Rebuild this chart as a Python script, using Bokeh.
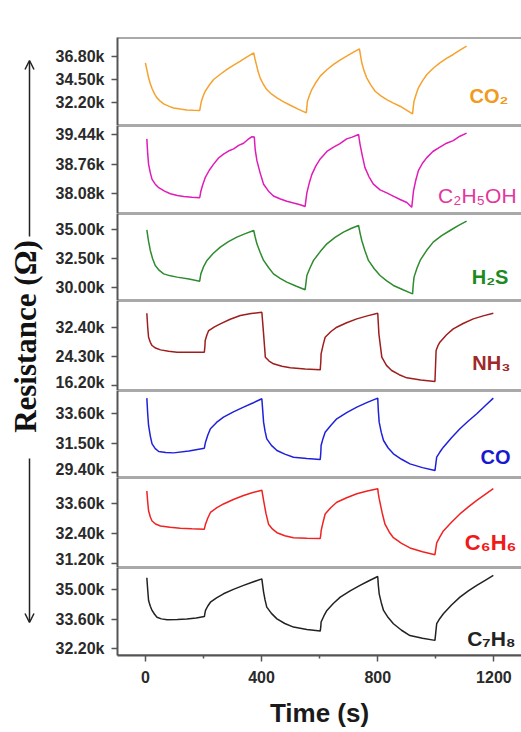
from bokeh.plotting import figure
from bokeh.layouts import column, row
from bokeh.models import (Range1d, FixedTicker, NumeralTickFormatter, Span,
                          Label, Arrow, OpenHead)
from bokeh.embed import file_html
from bokeh.resources import INLINE

# ---------------- data: resistance (ohm) vs time (s) ----------------
co2_t = [0, 6, 11, 17, 23, 31, 40, 51, 63, 80, 97, 120, 143, 165, 187, 190, 193, 199, 206, 220, 235, 258, 281, 304, 327, 350, 373,
         377, 382, 388, 395, 406, 418, 435, 453, 476, 499, 526, 554, 556, 558, 565, 573, 587, 602, 625, 648, 670, 693, 715, 737,
         741, 745, 753, 762, 776, 791, 811, 831, 854, 877, 899, 920, 922, 925, 932, 940, 954, 969, 991, 1014, 1037, 1060, 1083, 1106]
co2_r = [36160, 35350, 34650, 34050, 33570, 33060, 32630, 32300, 32030, 31800, 31620, 31500, 31420, 31380, 31350, 31850, 32290, 32820, 33300, 33920, 34480, 35010, 35490, 35930, 36330, 36760, 37170,
         36600, 36000, 35300, 34650, 34000, 33470, 33000, 32630, 32230, 31890, 31500, 31120, 31700, 32290, 32900, 33470, 34180, 34820, 35460, 36000, 36440, 36830, 37210, 37570,
         36850, 36160, 35350, 34650, 33940, 33300, 32840, 32460, 32100, 31790, 31400, 31020, 31650, 32290, 32980, 33640, 34350, 34980, 35610, 36160, 36600, 37000, 37430, 37840]

c2h5oh_t = [5, 8, 11, 17, 23, 34, 46, 66, 86, 110, 132, 160, 187, 189, 191, 198, 206, 220, 235, 252, 269, 286, 304, 321, 338, 352, 367, 375,
            378, 384, 395, 407, 424, 441, 465, 487, 510, 533, 550, 553, 556, 564, 573, 587, 602, 625, 648, 670, 693, 712, 734,
            736, 739, 747, 756, 770, 785, 808, 831, 855, 877, 900, 917, 920, 923, 931, 940, 954, 969, 990, 1014, 1037, 1060, 1083, 1106]
c2h5oh_r = [39340, 39000, 38760, 38560, 38410, 38300, 38220, 38140, 38080, 38040, 38020, 38000, 37990, 38060, 38140, 38300, 38450, 38620, 38760, 38900, 38990, 39060, 39110, 39190, 39240, 39320, 39390, 39380,
            39100, 38840, 38560, 38300, 38140, 38030, 37960, 37910, 37870, 37830, 37790, 37950, 38100, 38320, 38520, 38720, 38880, 39050, 39150, 39230, 39340, 39380, 39440,
            39350, 39220, 38950, 38680, 38470, 38300, 38170, 38100, 38020, 37950, 37880, 37770, 37950, 38140, 38390, 38610, 38780, 38910, 39050, 39150, 39240, 39300, 39400, 39470]

h2s_t = [5, 11, 17, 25, 34, 48, 63, 86, 109, 150, 187, 189, 191, 200, 212, 234, 258, 286, 315, 344, 373,
         378, 384, 395, 407, 424, 441, 464, 487, 518, 550, 553, 556, 567, 579, 602, 625, 653, 682, 708, 734,
         739, 745, 756, 768, 788, 808, 831, 854, 887, 920, 922, 925, 935, 946, 968, 991, 1020, 1049, 1077, 1106]
h2s_r = [35000, 34000, 33220, 32500, 31920, 31500, 31200, 31030, 30920, 30750, 30570, 30900, 31200, 31800, 32360, 32980, 33510, 33980, 34370, 34670, 34940,
         34380, 33790, 33060, 32360, 31750, 31200, 30820, 30490, 30150, 29830, 30450, 31060, 31730, 32360, 33120, 33790, 34340, 34800, 35110, 35370,
         34740, 34080, 33200, 32360, 31640, 31060, 30590, 30200, 29830, 29480, 30200, 30920, 31680, 32360, 33210, 33940, 34490, 34940, 35360, 35750]

nh3_t = [5, 8, 11, 17, 23, 35, 52, 80, 109, 156, 203, 205, 206, 212, 218, 238, 258, 292, 327, 364, 401,
         404, 407, 410, 413, 426, 441, 470, 499, 550, 602, 604, 605, 612, 619, 639, 659, 693, 728, 764, 800,
         802, 804, 809, 814, 830, 848, 874, 900, 948, 997, 999, 1001, 1007, 1014, 1037, 1060, 1094, 1129, 1163, 1198]
nh3_r = [36290, 32400, 29620, 28200, 27310, 26600, 26100, 25700, 25460, 25420, 25460, 27100, 28700, 30300, 31470, 32500, 33330, 34600, 35640, 36200, 36570,
         33600, 30550, 27300, 24070, 23000, 22220, 21550, 21110, 20800, 20550, 22800, 24990, 27500, 29620, 31200, 32400, 33650, 34710, 35550, 36290,
         33400, 30550, 27300, 24070, 21800, 20370, 19200, 18330, 17700, 17310, 21600, 25920, 27200, 28230, 30300, 31940, 33420, 34710, 35550, 36290]

co_t = [5, 8, 11, 17, 23, 34, 46, 70, 97, 150, 203, 205, 207, 215, 224, 245, 269, 303, 338, 370, 401,
        404, 407, 412, 418, 434, 453, 480, 510, 556, 602, 604, 605, 612, 619, 639, 659, 693, 728, 764, 800,
        802, 805, 812, 820, 836, 854, 882, 911, 954, 997, 1000, 1003, 1014, 1026, 1054, 1083, 1112, 1141, 1170, 1198]
co_r = [34730, 33600, 32760, 32000, 31440, 31100, 30890, 30820, 30790, 30930, 31130, 31350, 31560, 32080, 32520, 32980, 33360, 33740, 34080, 34380, 34680,
        33850, 33000, 32350, 31800, 31330, 30960, 30700, 30480, 30380, 30310, 30800, 31320, 31850, 32280, 32780, 33240, 33680, 34080, 34420, 34730,
        33850, 33000, 32280, 31680, 31140, 30720, 30330, 30000, 29730, 29520, 30000, 30480, 30850, 31200, 31880, 32520, 33080, 33600, 34180, 34730]

c6h6_t = [5, 8, 11, 17, 23, 35, 52, 85, 120, 160, 203, 205, 207, 215, 224, 245, 269, 303, 338, 370, 401,
          404, 407, 415, 424, 438, 453, 480, 510, 556, 602, 604, 605, 612, 619, 639, 659, 693, 728, 764, 800,
          802, 805, 815, 825, 840, 854, 882, 911, 954, 997, 1000, 1003, 1014, 1026, 1054, 1083, 1112, 1141, 1170, 1198]
c6h6_r = [34090, 33650, 33300, 33050, 32890, 32770, 32690, 32640, 32600, 32580, 32560, 32660, 32760, 33010, 33230, 33410, 33570, 33750, 33910, 34030, 34120,
          33920, 33710, 33200, 32760, 32560, 32420, 32300, 32220, 32200, 32190, 32340, 32490, 32850, 33170, 33430, 33640, 33820, 33980, 34090, 34180,
          33980, 33780, 33230, 32760, 32440, 32220, 31990, 31810, 31660, 31540, 31780, 32010, 32250, 32490, 32840, 33170, 33450, 33710, 33950, 34180]

c7h8_t = [5, 8, 11, 17, 23, 31, 40, 55, 75, 110, 143, 175, 203, 205, 207, 215, 224, 245, 269, 303, 338, 370, 401,
          404, 407, 412, 418, 434, 453, 480, 510, 556, 602, 604, 605, 615, 625, 647, 671, 705, 739, 770, 800,
          802, 805, 812, 820, 836, 854, 882, 911, 954, 997, 1000, 1003, 1014, 1026, 1054, 1083, 1112, 1141, 1170, 1198]
c7h8_r = [35570, 35000, 34490, 34220, 34020, 33850, 33700, 33620, 33580, 33590, 33610, 33660, 33730, 33880, 34020, 34230, 34410, 34620, 34810, 35020, 35210, 35370, 35520,
          35200, 34890, 34520, 34180, 33880, 33620, 33400, 33230, 33120, 33040, 33250, 33470, 33770, 34020, 34350, 34650, 34950, 35210, 35430, 35630,
          35220, 34810, 34400, 34020, 33680, 33390, 33080, 32830, 32700, 32600, 33000, 33390, 33640, 33860, 34280, 34650, 34950, 35210, 35450, 35680]

# tick values of each panel's resistance axis
co2_ticks = [32200, 34500, 36800]
c2h5oh_ticks = [38080, 38760, 39440]
h2s_ticks = [30000, 32500, 35000]
nh3_ticks = [16200, 24300, 32400]
co_ticks = [29400, 31500, 33600]
c6h6_ticks = [31200, 32400, 33600]
c7h8_ticks = [32200, 33600, 35000]

time_ticks = [0, 400, 800, 1200]
time_minor_ticks = [200, 600, 1000]

gas_names = ["CO₂", "C₂H₅OH", "H₂S", "NH₃", "CO", "C₆H₆", "C₇H₈"]
conc_labels = ["1 ppm", "5 ppm", "10 ppm"]
conc_label_x = [141, 530, 935]

# ---------------- styling / layout ----------------
FONT = "Liberation Sans"
AXIS_COLOR = "#555555"
TEXT_COLOR = "#2a2a2a"
LEFT_W = 50
PANEL_W = 521 - LEFT_W
FRAME_LEFT = 117 - LEFT_W
x_range = Range1d(-96, 1295)

panels = [
    dict(t=co2_t, r=co2_r, ticks=co2_ticks, yr=(29850, 38710), h=125, top=37, bottom=0,
         color="#F5A22E", lcolor="#F29A1C", lx=1250, ly=32770, lsize="20px", lstyle="bold"),
    dict(t=c2h5oh_t, r=c2h5oh_r, ticks=c2h5oh_ticks, yr=(37628, 39646), h=88, top=0, bottom=0,
         color="#E01CB8", lcolor="#E4369C", lx=1278, ly=38030, lsize="21px", lstyle="normal"),
    dict(t=h2s_t, r=h2s_r, ticks=h2s_ticks, yr=(28905, 36405), h=87, top=0, bottom=0,
         color="#2E8B2E", lcolor="#1E8A1E", lx=1250, ly=30890, lsize="20px", lstyle="bold"),
    dict(t=nh3_t, r=nh3_r, ticks=nh3_ticks, yr=(14810, 39820), h=90, top=0, bottom=0,
         color="#9E1E1E", lcolor="#A0282A", lx=1257, ly=22450, lsize="20px", lstyle="bold"),
    dict(t=co_t, r=co_r, ticks=co_ticks, yr=(29019, 35276), h=87, top=0, bottom=0,
         color="#2020DA", lcolor="#1818D0", lx=1257, ly=30490, lsize="20px", lstyle="bold"),
    dict(t=c6h6_t, r=c6h6_r, ticks=c6h6_ticks, yr=(31028, 34628), h=90, top=0, bottom=0,
         color="#F02222", lcolor="#F01A1A", lx=1278, ly=32010, lsize="22px", lstyle="bold"),
    dict(t=c7h8_t, r=c7h8_r, ticks=c7h8_ticks, yr=(31882, 36058), h=165, top=0, bottom=77,
         color="#222222", lcolor="#222222", lx=1275, ly=32670, lsize="21px", lstyle="bold"),
]

figs = []
last = len(panels) - 1
for i, (pan, name) in enumerate(zip(panels, gas_names)):
    p = figure(width=PANEL_W, height=pan["h"], x_range=x_range,
               y_range=Range1d(*pan["yr"]), output_backend="svg",
               toolbar_location=None,
               x_axis_location="below" if i == last else None,
               y_axis_location="left")
    p.min_border = 0
    p.min_border_left = FRAME_LEFT
    p.min_border_right = 0
    p.min_border_top = pan["top"]
    p.min_border_bottom = pan["bottom"]
    p.outline_line_color = None
    p.background_fill_color = "white"
    p.border_fill_color = "white"
    p.grid.visible = False

    ax = p.yaxis[0]
    ax.ticker = FixedTicker(ticks=pan["ticks"])
    ax.formatter = NumeralTickFormatter(format="0.00a")
    ax.axis_line_color = AXIS_COLOR
    ax.axis_line_width = 2
    ax.major_tick_line_color = AXIS_COLOR
    ax.major_tick_line_width = 1.5
    ax.major_tick_in = 0
    ax.major_tick_out = 6
    ax.minor_tick_line_color = None
    ax.major_label_standoff = 7
    ax.major_label_text_font = FONT
    ax.major_label_text_font_style = "bold"
    ax.major_label_text_font_size = "16px"
    ax.major_label_text_color = TEXT_COLOR

    # panel separators
    for loc in pan["yr"]:
        p.add_layout(Span(location=loc, dimension="width",
                          line_color=AXIS_COLOR, line_width=2))

    p.line(pan["t"], pan["r"], line_color=pan["color"], line_width=1.5)

    p.add_layout(Label(x=pan["lx"], y=pan["ly"], text=name,
                       text_align="right", text_baseline="middle",
                       text_font=FONT, text_font_style=pan["lstyle"],
                       text_font_size=pan["lsize"], text_color=pan["lcolor"]))

    if i == 0:
        for txt, lx in zip(conc_labels, conc_label_x):
            p.add_layout(Label(x=lx, y=40320, text=txt, text_align="center",
                               text_baseline="middle", text_font=FONT,
                               text_font_style="bold", text_font_size="21px",
                               text_color="#111111"))

    if i == last:
        xa = p.xaxis[0]
        xa.ticker = FixedTicker(ticks=time_ticks, minor_ticks=time_minor_ticks)
        xa.axis_line_color = AXIS_COLOR
        xa.axis_line_width = 2
        xa.major_tick_line_color = AXIS_COLOR
        xa.major_tick_line_width = 1.5
        xa.major_tick_in = 0
        xa.major_tick_out = 6
        xa.minor_tick_line_color = AXIS_COLOR
        xa.minor_tick_line_width = 1.5
        xa.minor_tick_in = 0
        xa.minor_tick_out = 3
        xa.major_label_standoff = 9
        xa.major_label_text_font = FONT
        xa.major_label_text_font_style = "bold"
        xa.major_label_text_font_size = "16px"
        xa.major_label_text_color = TEXT_COLOR
        xa.axis_label = "Time (s)"
        xa.axis_label_standoff = 12
        xa.axis_label_text_font = FONT
        xa.axis_label_text_font_style = "bold"
        xa.axis_label_text_font_size = "26px"
        xa.axis_label_text_color = "#1a1a1a"
    figs.append(p)

# shared resistance title with arrows, drawn in a narrow strip on the left
side = figure(width=LEFT_W, height=732, x_range=Range1d(0, LEFT_W),
              y_range=Range1d(732, 0), output_backend="svg",
              toolbar_location=None, x_axis_location=None, y_axis_location=None)
side.min_border = 0
side.outline_line_color = None
side.border_fill_color = "white"
side.background_fill_color = "white"
side.grid.visible = False
side.add_layout(Label(x=25, y=336, text="Resistance (Ω)", angle=90, angle_units="deg",
                      text_align="center", text_baseline="middle",
                      text_font="Liberation Serif", text_font_style="bold",
                      text_font_size="31px", text_color="#111111"))
side.add_layout(Arrow(x_start=29, y_start=236, x_end=29, y_end=60,
                      line_color="#222222", line_width=1.5,
                      end=OpenHead(size=9, line_color="#222222", line_width=1.5)))
side.add_layout(Arrow(x_start=29, y_start=458, x_end=29, y_end=622,
                      line_color="#222222", line_width=1.5,
                      end=OpenHead(size=9, line_color="#222222", line_width=1.5)))

layout = row(side, column(*figs, spacing=0), spacing=0)

open("out.html", "w").write(file_html(layout, INLINE))
